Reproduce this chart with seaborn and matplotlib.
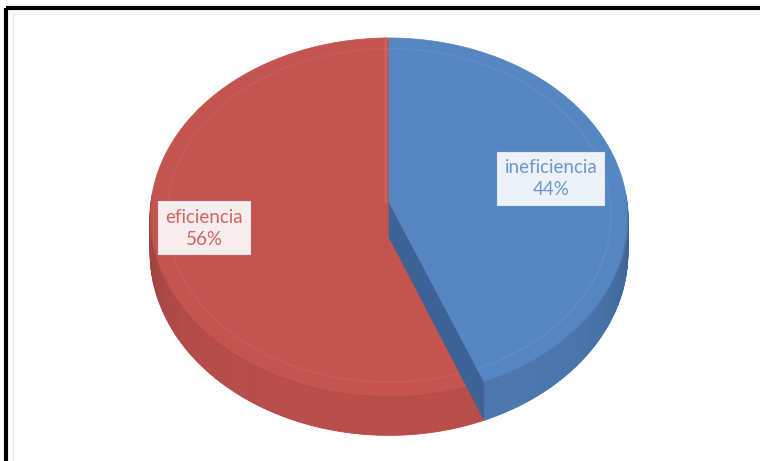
import numpy as np
import matplotlib
matplotlib.use("Agg")
import matplotlib.pyplot as plt
import seaborn as sns
from matplotlib.patches import Polygon
from matplotlib.colors import to_rgb

# Data
categories = ["ineficiencia", "eficiencia"]
shares = [44, 56]
pct_labels = ["44%", "56%"]

# Colours: top face, side wall, radial cut face, label text
top_colors = ["#5686c2", "#c3544f"]
side_colors = ["#4a77ae", "#b84d49"]
cut_colors = ["#3d6296", "#9e3f3c"]
text_colors = ["#6a97cc", "#cf6763"]
label_radius = [0.70, 0.78]

sns.set_theme(style="white")
plt.rcParams["font.family"] = ["Lato", "DejaVu Sans"]

fig = plt.figure(figsize=(7.6, 4.61), dpi=100)
ax = fig.add_axes([0, 0, 1, 1])
ax.set_xlim(0, 760)
ax.set_ylim(461, 0)
ax.axis("off")

# Perspective projection of a flat cylinder (pie of unit radius)
CX, CY = 389.0, 202.0
A, B, K, H = 238.0, 178.2, 0.0864, 35.0


def proj(theta_deg, r=1.0, z=0.0):
    t = np.radians(theta_deg)
    X = r * np.cos(t)
    Y = r * np.sin(t)
    s = 1.0 / (1.0 + K * Y)
    return CX + A * X * s, CY - B * Y * s + H * z * s


def shade(color, f):
    c = np.array(to_rgb(color))
    return tuple(np.clip(c * f, 0, 1))


# Slice angles: start at 12 o'clock and run clockwise
total = float(sum(shares))
starts, ends = [], []
a0 = 90.0
for v in shares:
    a1 = a0 - 360.0 * v / total
    starts.append(a0)
    ends.append(a1)
    a0 = a1


def side_wall(i, lo, hi, z0):
    # front-facing outer wall between angles lo..hi, drawn in thin strips
    angs = np.linspace(lo, hi, 120)
    for a, b in zip(angs[:-1], angs[1:]):
        mid = np.radians((a + b) / 2)
        f = 1.0 - 0.14 * abs(np.cos(mid)) ** 6
        pts = [proj(a), proj(b), proj(b, z=1), proj(a, z=1)]
        ax.add_patch(Polygon(pts, closed=True, facecolor=shade(side_colors[i], f),
                             edgecolor=shade(side_colors[i], f), lw=0.6, zorder=z0))


def top_face(i, z0):
    angs = np.linspace(starts[i], ends[i], 300)
    pts = [proj(0, r=0)] + [proj(a) for a in angs]
    ax.add_patch(Polygon(pts, closed=True, facecolor=top_colors[i],
                         edgecolor=top_colors[i], lw=0.5, zorder=z0))
    # soft bevel just inside the rim
    bev = np.array([proj(a, r=0.93) for a in angs])
    ax.plot(bev[:, 0], bev[:, 1], color="white", alpha=0.05, lw=1.2, zorder=z0 + 0.1)
    # rim edge
    rim = np.array([proj(a) for a in angs if np.sin(np.radians(a)) < 0.05])
    if len(rim):
        ax.plot(rim[:, 0], rim[:, 1], color=shade(top_colors[i], 0.85),
                alpha=0.6, lw=0.9, zorder=z0 + 0.2)


# eficiencia (red): side wall on the front, then its top face
side_wall(1, -180.0, ends[0], 1)
top_face(1, 2)
# faint edge of the red cut face along the 12 o'clock radius
e = np.array([proj(90.0), proj(0, r=0)])
ax.plot(e[:, 0] - 4, e[:, 1], color="#cf6661", lw=2.0, alpha=0.7, zorder=2.5)

# ineficiencia (blue): exposed radial cut face, side wall, top face
cut = [proj(0, r=0), proj(ends[0]), proj(ends[0], z=1), proj(0, r=0, z=1)]
ax.add_patch(Polygon(cut, closed=True, facecolor=cut_colors[0],
                     edgecolor=cut_colors[0], lw=0.5, zorder=3))
side_wall(0, ends[0], 0.0, 4)
top_face(0, 5)

# Data labels
for i in range(len(shares)):
    mid = (starts[i] + ends[i]) / 2
    x, y = proj(mid, r=label_radius[i])
    ax.text(x, y, f"{categories[i]}\n{pct_labels[i]}", ha="center", va="center",
            fontsize=13.5, color=text_colors[i], linespacing=1.35, zorder=10,
            bbox=dict(boxstyle="square,pad=0.35", facecolor="white", alpha=0.9,
                      edgecolor="#f2f2f2", lw=1.5))

# Outer frame (top and left edges)
ax.plot([6, 6], [461, 8], color="black", lw=3.0, solid_capstyle="butt", zorder=20)
ax.plot([6, 760], [8, 8], color="black", lw=3.0, solid_capstyle="butt", zorder=20)
ax.plot([13, 13], [461, 14], color="#e8e8e8", lw=1.0, zorder=19)
ax.plot([13, 760], [14, 14], color="#eeeeee", lw=1.0, zorder=19)

fig.savefig("out.png", dpi=100, facecolor="white")
